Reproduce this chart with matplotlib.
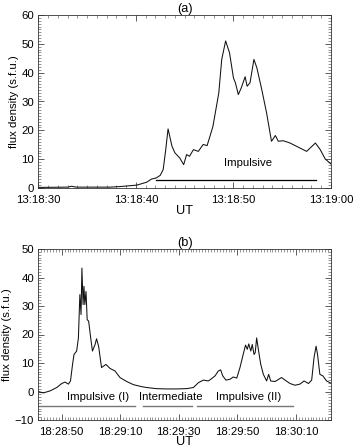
import matplotlib
matplotlib.use("Agg")
import matplotlib.pyplot as plt
from matplotlib.ticker import MultipleLocator, FixedLocator, FixedFormatter

plt.rcParams['font.family'] = ['Liberation Sans', 'DejaVu Sans']

# ---- Panel (a): seconds after 13:18:30 ----
t_a = [0, 3.0, 3.4, 3.9, 7.3, 8.4, 10.1, 11.1, 11.6, 12.1, 12.5, 12.8, 13.05, 13.3,
       13.7, 14.0, 14.5, 14.9, 15.2, 15.5, 15.9, 16.4, 16.9, 17.3, 17.6, 17.9,
       18.5, 18.8, 19.2, 19.6, 20.0, 20.2, 20.5, 20.8, 21.2, 21.4, 21.7, 22.1,
       22.4, 22.9, 23.4, 23.9, 24.3, 24.6, 25.1, 25.8, 26.8, 27.5, 28.4, 28.9,
       29.4, 30.0]
flux_a = [0.2, 0.3, 0.6, 0.3, 0.3, 0.5, 1.0, 2.0, 3.1, 3.5, 4.4, 6.4, 13.0, 20.5,
          14.5, 12.2, 10.4, 8.1, 11.6, 11.0, 13.3, 12.7, 15.1, 14.7, 18.0, 21.4,
          33.0, 44.6, 51.0, 46.9, 38.2, 36.5, 32.4, 34.7, 38.6, 35.3, 36.5, 44.6,
          41.7, 34.2, 26.0, 16.2, 18.2, 16.2, 16.4, 15.6, 13.9, 12.7, 15.6, 13.3,
          10.1, 8.3]
xticks_a = [0, 10, 20, 30]
xticklabels_a = ["13:18:30", "13:18:40", "13:18:50", "13:19:00"]
bar_a = [12.1, 28.5]
bar_a_level = 2.7
label_a = "Impulsive"

# ---- Panel (b): seconds after 18:28:42 ----
t_b = [0, 1.7, 4, 6.3, 8, 9.1, 10.3, 11, 11.7, 12.2, 13.1, 13.7, 14.2, 14.6, 14.9,
       15.3, 15.6, 15.9, 16.3, 16.7, 17.2, 17.9, 18.5, 19.4, 19.9, 20.6, 21.6,
       23.1, 24.5, 26.2, 27.9, 30.2, 32.5, 35.3, 37, 40.4, 43.8, 47.3, 50.7, 53,
       54.7, 56.4, 58.1, 59.2, 60.4, 61.5, 62.3, 63.0, 64.1, 65.5, 66.6, 67.8,
       68.9, 70, 70.8, 71.4, 71.9, 72.6, 73.1, 73.7, 74.1, 74.6, 75.1, 76, 76.9,
       78, 78.7, 79.4, 80.9, 83.1, 84.3, 86, 87.7, 89.4, 90.8, 92.3, 93.4, 94.2,
       94.9, 95.4, 96.2, 97.2, 98.5, 100]
flux_b = [0, -0.5, 0.2, 1.4, 2.8, 3.3, 2.6, 3.7, 9.5, 13.0, 14.2, 18.8, 34.0, 27.0,
          43.3, 30.5, 36.9, 30.5, 35.1, 25.2, 24.7, 18.8, 14.2, 16.5, 18.5, 15.9,
          8.4, 9.5, 8.1, 7.2, 4.9, 3.5, 2.4, 1.7, 1.4, 1.0, 0.9, 0.9, 1.0, 1.4,
          3.1, 4.0, 3.7, 4.5, 5.5, 7.2, 7.6, 5.5, 4.0, 4.3, 5.1, 4.7,
          8.4, 13.0, 16.3, 14.8, 16.7, 14.2, 16.5, 13.0, 13.6, 18.8, 15.3, 9.5, 6.0,
          3.7, 6.0, 3.7, 3.5, 4.9, 4.0, 2.8, 2.2, 2.6, 3.7, 2.8, 4.0, 11.9,
          15.9, 13.0, 6.0, 5.5, 3.7, 2.9]
xticks_b = [8, 28, 48, 68, 88]
xticklabels_b = ["18:28:50", "18:29:10", "18:29:30", "18:29:50", "18:30:10"]
bars_b = [(0, 32.9), (35.9, 52.5), (54.1, 87.0)]
bar_b_level = -5.1
labels_b = ["Impulsive (I)", "Intermediate", "Impulsive (II)"]
label_b_x = [20.4, 45.4, 71.8]

W, H = 354, 448
fig = plt.figure(figsize=(W / 100, H / 100), dpi=100)
fs = 8.2

def style(ax):
    ax.tick_params(which='both', direction='in', top=True, right=True,
                   labelsize=fs, width=0.6, colors='#444444', labelcolor='black')
    ax.tick_params(axis='x', which='major', pad=5)
    ax.tick_params(axis='y', which='major', pad=3)
    ax.tick_params(which='major', length=4)
    ax.tick_params(which='minor', length=2, width=0.4)
    for s in ax.spines.values():
        s.set_linewidth(0.6)
        s.set_color('#333333')

ax1 = fig.add_axes([38.3 / W, 1 - 188 / H, (331 - 38.3) / W, (188 - 15) / H])
ax1.plot(t_a, flux_a, color='#111111', lw=0.75)
ax1.plot(bar_a, [bar_a_level, bar_a_level], color='black', lw=0.9)
ax1.text(21.5, 8.8, label_a, ha='center', va='center', fontsize=fs)
ax1.set_xlim(0, 30)
ax1.set_ylim(0, 60)
ax1.xaxis.set_major_locator(FixedLocator(xticks_a))
ax1.xaxis.set_major_formatter(FixedFormatter(xticklabels_a))
ax1.xaxis.set_minor_locator(MultipleLocator(1))
ax1.yaxis.set_major_locator(MultipleLocator(10))
ax1.yaxis.set_minor_locator(MultipleLocator(1))
style(ax1)
ax1.set_title("(a)", fontsize=fs + 1, pad=2)
ax1.set_xlabel("UT", fontsize=fs + 1, labelpad=0)
ax1.set_ylabel("flux density (s.f.u.)", fontsize=fs, labelpad=2)

ax2 = fig.add_axes([38.3 / W, 1 - 420 / H, (331 - 38.3) / W, (420 - 249) / H])
ax2.plot(t_b, flux_b, color='#111111', lw=0.75)
for (x0, x1) in bars_b:
    ax2.plot([x0, x1], [bar_b_level, bar_b_level], color='#777777', lw=1.0)
for lx, lab in zip(label_b_x, labels_b):
    ax2.text(lx, -1.8, lab, ha='center', va='center', fontsize=fs)
ax2.set_xlim(0, 100)
ax2.set_ylim(-10, 50)
ax2.xaxis.set_major_locator(FixedLocator(xticks_b))
ax2.xaxis.set_major_formatter(FixedFormatter(xticklabels_b))
ax2.xaxis.set_minor_locator(MultipleLocator(1))
ax2.yaxis.set_major_locator(MultipleLocator(10))
ax2.yaxis.set_minor_locator(MultipleLocator(1))
style(ax2)
ax2.set_title("(b)", fontsize=fs + 1, pad=2)
ax2.set_xlabel("UT", fontsize=fs + 1, labelpad=-1)
ax2.set_ylabel("flux density (s.f.u.)", fontsize=fs, labelpad=2)

fig.savefig("out.png", dpi=100)
